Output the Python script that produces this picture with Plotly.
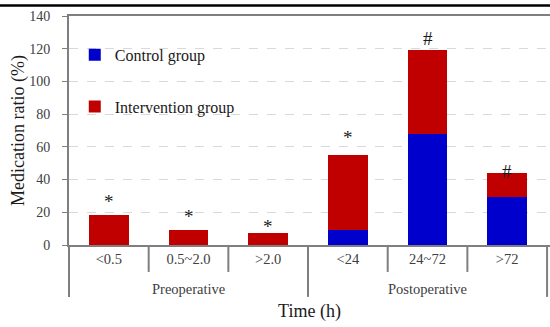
import plotly.graph_objects as go

groups = ["Preoperative"] * 3 + ["Postoperative"] * 3
periods = ["<0.5", "0.5~2.0", ">2.0", "<24", "24~72", ">72"]
control = [0, 0, 0, 9, 68, 29.3]
intervention = [18.3, 9.1, 7.5, 46, 51.5, 14.5]
marks = ["*", "*", "*", "*", "#", "#"]
mark_shift = [1, 1, -6, 5, -1, -11]   # px offsets of the significance marks

BLUE = "#0000CC"
RED = "#C00000"
AX = "#7f7f7f"
FONT = "Times New Roman, Liberation Serif, serif"

PLOT_H = 327 - 15.5 - 82          # plot-area height in px
px = lambda p: p / PLOT_H         # px -> paper units (vertical)

n = len(periods)
x_lo, x_hi = -0.5, n - 0.5 + 0.037   # right edge of the plot runs just past the figure
xspan = x_hi - x_lo
xp = lambda v: (v - x_lo) / xspan    # category position -> paper units

fig = go.Figure()
fig.add_trace(go.Bar(x=periods, y=control, name="Control group",
                     marker=dict(color=BLUE, line=dict(width=0)), width=0.5,
                     legendgroup="c"))
fig.add_trace(go.Bar(x=periods, y=intervention, name="Intervention group",
                     marker=dict(color=RED, line=dict(width=0)), width=0.5,
                     legendgroup="i"))

for p, c, v, m, s in zip(periods, control, intervention, marks, mark_shift):
    fig.add_annotation(x=p, y=c + v, text=m, showarrow=False, yanchor="bottom",
                       yshift=s, font=dict(family=FONT, size=19, color="#1a1a1a"))

# short boundary ticks between categories
for k in range(1, n):
    if groups[k] == groups[k - 1]:
        fig.add_shape(type="line", xref="paper", yref="paper",
                      x0=xp(k - 0.5), x1=xp(k - 0.5),
                      y0=0, y1=-px(27), line=dict(color=AX, width=2))
# long group dividers and group labels
bounds = [0] + [k for k in range(1, n) if groups[k] != groups[k - 1]] + [n]
for a, b in zip(bounds[:-1], bounds[1:]):
    fig.add_annotation(x=(a + b - 1) / 2, y=-px(44), xref="x", yref="paper",
                       text=groups[a], showarrow=False, yanchor="middle",
                       font=dict(family=FONT, size=14.5, color="#404040"))
for b in bounds:
    if xp(b - 0.5) <= 1:
        fig.add_shape(type="line", xref="paper", yref="paper",
                      x0=xp(b - 0.5), x1=xp(b - 0.5),
                      y0=0, y1=-px(52), line=dict(color=AX, width=2))

# thick black rule at the very top of the figure
fig.add_shape(type="line", xref="paper", yref="paper", x0=-0.2, x1=1.1,
              y0=1 + px(10.5), y1=1 + px(10.5), line=dict(color="black", width=2.5))

fig.update_layout(
    width=550, height=327,
    margin=dict(l=69, r=0, t=15.5, b=82),
    barmode="stack",
    plot_bgcolor="white", paper_bgcolor="white",
    font=dict(family=FONT, size=14, color="#404040"),
    legend=dict(x=0.012, y=0.905, xanchor="left", yanchor="top",
                traceorder="grouped", tracegroupgap=28,
                font=dict(family=FONT, size=16, color="#1a1a1a"),
                bgcolor="rgba(0,0,0,0)"),
    xaxis=dict(
        type="category",
        range=[x_lo, x_hi],
        showline=True, linecolor=AX, linewidth=2, mirror=True,
        ticks="", ticklen=0,
        tickfont=dict(family=FONT, size=14.5, color="#404040"),
        title=dict(text="Time (h)", font=dict(family=FONT, size=18, color="#1a1a1a"),
                   standoff=38),
        showgrid=False,
    ),
    yaxis=dict(
        range=[0, 140], dtick=20,
        showline=True, linecolor=AX, linewidth=2,
        ticks="outside", ticklen=5, tickcolor=AX, tickwidth=1,
        ticklabelstandoff=9,
        showgrid=True, gridcolor="#d9d9d9", griddash="dash", gridwidth=1,
        zeroline=False,
        tickfont=dict(family=FONT, size=14, color="#404040"),
        title=dict(text="Medication ratio (%)",
                   font=dict(family=FONT, size=18, color="#1a1a1a"), standoff=0),
    ),
    showlegend=True,
)

fig.write_html("out.html")
